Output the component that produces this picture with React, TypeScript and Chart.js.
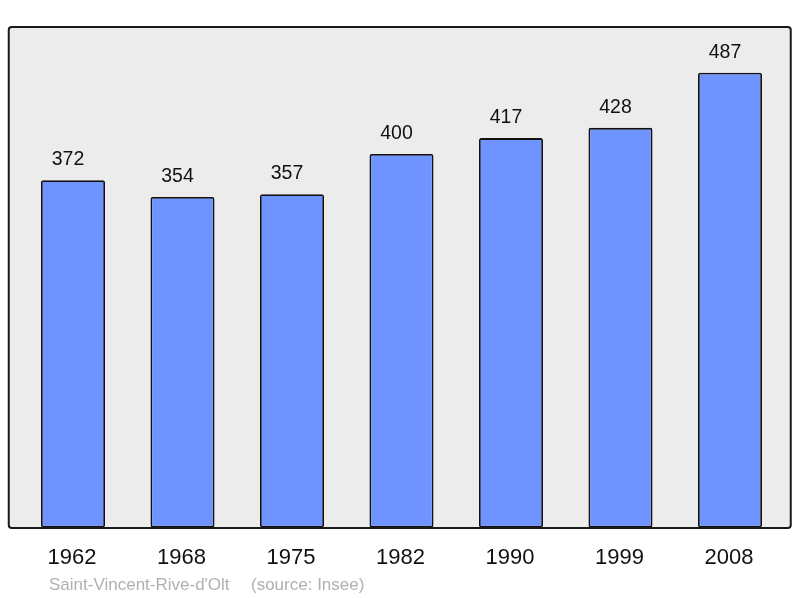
import React, { useEffect, useRef } from "react";
import { Chart, registerables } from "chart.js";

Chart.register(...registerables);

const years = ["1962", "1968", "1975", "1982", "1990", "1999", "2008"];
const population = [372, 354, 357, 400, 417, 428, 487];
const placeName = "Saint-Vincent-Rive-d'Olt";
const sourceText = "(source: Insee)";

const FONT = "'Liberation Sans', Arial, sans-serif";

const decorPlugin = {
  id: "decor",
  beforeDraw(chart: any) {
    const { ctx, chartArea } = chart;
    const x0 = chartArea.left - 9.5;
    const x1 = chartArea.right + 6;
    const y0 = chartArea.top;
    const y1 = chartArea.bottom + 0.5;
    ctx.save();
    ctx.beginPath();
    ctx.roundRect(x0, y0, x1 - x0, y1 - y0, 3);
    ctx.fillStyle = "#ececec";
    ctx.fill();
    ctx.restore();
  },
  afterDatasetsDraw(chart: any) {
    const { ctx, chartArea } = chart;
    const x0 = chartArea.left - 9.5;
    const x1 = chartArea.right + 6;
    const y0 = chartArea.top;
    const y1 = chartArea.bottom + 0.5;
    ctx.save();
    ctx.beginPath();
    ctx.roundRect(x0, y0, x1 - x0, y1 - y0, 3);
    ctx.lineWidth = 2;
    ctx.strokeStyle = "#1a1a1a";
    ctx.stroke();

    const xScale = chart.scales.x;
    const yScale = chart.scales.y;
    const meta = chart.getDatasetMeta(0);
    ctx.fillStyle = "#111";
    ctx.textAlign = "center";
    ctx.textBaseline = "alphabetic";
    ctx.font = `19.5px ${FONT}`;
    population.forEach((v, i) => {
      const bar = meta.data[i];
      ctx.fillText(String(v), bar.x - 5, yScale.getPixelForValue(v) - 15);
    });
    ctx.font = `22px ${FONT}`;
    years.forEach((y, i) => {
      ctx.fillText(y, xScale.getPixelForValue(i) - 1, chartArea.bottom + 36.5);
    });
    ctx.textAlign = "left";
    ctx.fillStyle = "#b0b0b0";
    ctx.font = `17px ${FONT}`;
    ctx.fillText(placeName, 49, 590);
    ctx.fillText(sourceText, 251, 590);
    ctx.restore();
  },
};

export default function App() {
  const ref = useRef<HTMLCanvasElement>(null);
  useEffect(() => {
    document.body.style.margin = "0";
    const chart = new Chart(ref.current!, {
      type: "bar",
      data: {
        labels: years,
        datasets: [
          {
            data: population,
            backgroundColor: "#7094ff",
            borderColor: "#111",
            borderWidth: 1.8,
            borderSkipped: false,
            borderRadius: 2,
            barPercentage: 0.585,
            categoryPercentage: 1,
          },
        ],
      },
      options: {
        animation: false,
        responsive: false,
        layout: { padding: { left: 18.25, right: 15.25, top: 27, bottom: 70.5 } },
        plugins: { legend: { display: false }, tooltip: { enabled: false } },
        scales: {
          x: { display: false, offset: true },
          y: { display: false, min: 0, max: 536 },
        },
      },
      plugins: [decorPlugin],
    });
    return () => chart.destroy();
  }, []);
  return (
    <div style={{ position: "absolute", left: 0, top: 0, width: 800, height: 598 }}>
      <canvas ref={ref} width={800} height={598} />
    </div>
  );
}
